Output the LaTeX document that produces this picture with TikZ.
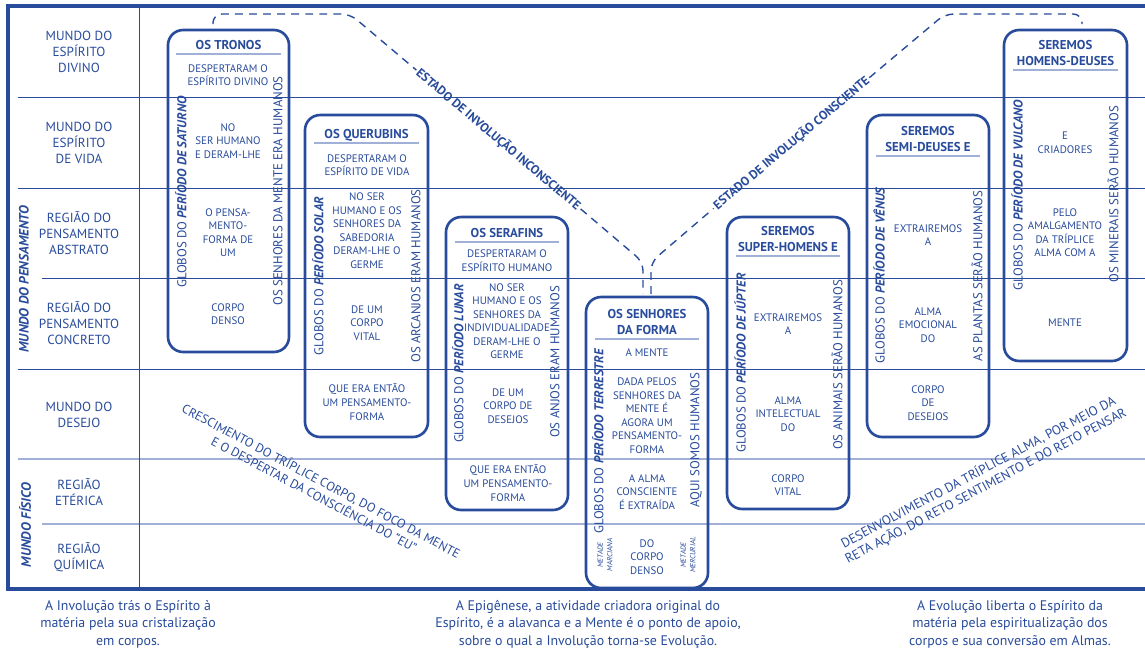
\documentclass[tikz,border=0pt]{standalone}
\usepackage{fontspec}
\setmainfont{PT Sans}
\definecolor{azul}{RGB}{40,75,155}
\definecolor{azulclaro}{RGB}{160,176,214}

\begin{document}
\begin{tikzpicture}[
    x=0.02cm, y=-0.02cm,
    moldura/.style={draw=azul, line width=2pt},
    grade/.style={draw=azul, line width=0.5pt},
    gradeclara/.style={draw=azulclaro, line width=0.8pt},
    mundo/.style={text=azul, align=center, inner sep=0pt, font=\fontsize{7.5}{9.1}\selectfont},
    mundolado/.style={text=azul, rotate=90, inner sep=0pt, font=\bfseries\itshape\fontsize{7.7}{9}\selectfont},
    periodo/.style={draw=azul, line width=1.5pt, rounded corners=0.3cm, minimum width=2.44cm},
    titulo/.style={text=azul, align=center, anchor=south, minimum width=2.08cm, inner xsep=0pt, inner ysep=2.6pt, text depth=0pt, font=\bfseries\fontsize{7.3}{8.8}\selectfont},
    sublinha/.style={draw=azulclaro, line width=0.7pt},
    texto/.style={text=azul, align=center, inner sep=0pt, font=\fontsize{6.2}{7.7}\selectfont},
    globo/.style={text=azul, rotate=90, inner sep=0pt, font=\fontsize{7.3}{8}\selectfont},
    metade/.style={text=azul, rotate=90, align=center, inner sep=0pt, font=\itshape\fontsize{4.2}{5.4}\selectfont},
    tracejado/.style={draw=azul, line width=0.8pt, dash pattern=on 4.5pt off 3.5pt, rounded corners=5pt},
    estado/.style={text=azul, inner sep=1pt, font=\bfseries\fontsize{7.1}{8}\selectfont},
    diagonal/.style={text=azul, align=center, inner sep=0pt, font=\fontsize{7.2}{8.6}\selectfont},
    legenda/.style={text=azul, align=center, inner sep=0pt, font=\fontsize{7.9}{10}\selectfont}
]
\useasboundingbox (0,0) rectangle (1145,653);

% Quadro e linhas dos mundos
\draw[grade] (18,97) -- (1145,97);
\draw[grade] (18,188) -- (1145,188);
\draw[grade] (42,278) -- (1145,278);
\draw[grade] (18,369) -- (1145,369);
\draw[gradeclara] (18,459) -- (1145,459);
\draw[gradeclara] (42,524) -- (1145,524);
\draw[grade] (139,6) -- (139,589);
\draw[moldura] (1145,6) -- (8,6) -- (8,589) -- (1145,589);

% Mundos
\node[mundo] (divino) at (79,52) {MUNDO DO\\ESPÍRITO\\DIVINO};
\node[mundo] (vida) at (79,143) {MUNDO DO\\ESPÍRITO\\DE VIDA};
\node[mundo] (abstrato) at (79,233) {REGIÃO DO\\PENSAMENTO\\ABSTRATO};
\node[mundo] (concreto) at (79,323.5) {REGIÃO DO\\PENSAMENTO\\CONCRETO};
\node[mundo] (desejo) at (79,415) {MUNDO DO\\DESEJO};
\node[mundo] (eterica) at (79,492) {REGIÃO\\ETÉRICA};
\node[mundo] (quimica) at (79,557) {REGIÃO\\QUÍMICA};
\node[mundolado] (mpensamento) at (24,279) {MUNDO DO PENSAMENTO};
\node[mundolado] (mfisico) at (25,525) {MUNDO FÍSICO};

% Periodo de Saturno
\node[periodo, minimum width=2.42cm, minimum height=6.44cm] (tronos) at (228.5,191) {};
\node[titulo] (tronos-t) at (228.5,54) {OS TRONOS};
\draw[sublinha] (tronos-t.south west) -- (tronos-t.south east);
\node[texto] (tronos-1) at (228,75) {DESPERTARAM O\\ESPÍRITO DIVINO};
\node[texto] (tronos-2) at (228,141) {NO\\SER HUMANO\\E DERAM-LHE};
\node[texto] (tronos-3) at (228,232.5) {O PENSA-\\MENTO-\\FORMA DE\\UM};
\node[texto] (tronos-4) at (228,314) {CORPO\\DENSO};
\node[globo] (tronos-g) at (181,192) {GLOBOS DO \textbf{\textit{PERÍODO DE SATURNO}}};
\node[globo] (tronos-h) at (278,191) {OS SENHORES DA MENTE ERA HUMANOS};

% Periodo Solar
\node[periodo, minimum width=2.46cm, minimum height=6.44cm] (querubins) at (366.5,276) {};
\node[titulo] (querubins-t) at (366.5,143) {OS QUERUBINS};
\draw[sublinha] (querubins-t.south west) -- (querubins-t.south east);
\node[texto] (querubins-1) at (367,165) {DESPERTARAM O\\ESPÍRITO DE VIDA};
\node[texto] (querubins-2) at (367,230.5) {NO SER\\HUMANO E OS\\SENHORES DA\\SABEDORIA\\DERAM-LHE O\\GERME};
\node[texto] (querubins-3) at (367,323) {DE UM\\CORPO\\VITAL};
\node[texto] (querubins-4) at (367,402) {QUE ERA ENTÃO\\UM PENSAMENTO-\\FORMA};
\node[globo] (querubins-g) at (318,276) {GLOBOS DO \textbf{\textit{PERÍODO SOLAR}}};
\node[globo] (querubins-h) at (416,276) {OS ARCANJOS ERAM HUMANOS};

% Periodo Lunar
\node[periodo, minimum height=5.86cm] (serafins) at (507,363.5) {};
\node[titulo] (serafins-t) at (507,242) {OS SERAFINS};
\draw[sublinha] (serafins-t.south west) -- (serafins-t.south east);
\node[texto] (serafins-1) at (507,260.5) {DESPERTARAM O\\ESPÍRITO HUMANO};
\node[texto] (serafins-2) at (507,321) {NO SER\\HUMANO E OS\\SENHORES DA\\INDIVIDUALIDADE\\DERAM-LHE O\\GERME};
\node[texto] (serafins-3) at (508,406) {DE UM\\CORPO DE\\DESEJOS};
\node[texto] (serafins-4) at (508,483) {QUE ERA ENTÃO\\UM PENSAMENTO-\\FORMA};
\node[globo] (serafins-g) at (458,363.5) {GLOBOS DO \textbf{\textit{PERÍODO LUNAR}}};
\node[globo] (serafins-h) at (555,362) {OS ANJOS ERAM HUMANOS};

% Periodo Terrestre
\node[periodo, minimum height=5.82cm] (senhores) at (647,442.5) {};
\node[titulo] (senhores-t) at (647,339) {OS SENHORES\\DA FORMA};
\draw[sublinha] (senhores-t.south west) -- (senhores-t.south east);
\node[texto] (senhores-1) at (647,353) {A MENTE};
\node[texto] (senhores-2) at (647,415.5) {DADA PELOS\\SENHORES DA\\MENTE É\\AGORA UM\\PENSAMENTO-\\FORMA};
\node[texto] (senhores-3) at (647,492) {A ALMA\\CONSCIENTE\\É EXTRAÍDA};
\node[texto] (senhores-4) at (647,557) {DO\\CORPO\\DENSO};
\node[globo] (senhores-g) at (598,441) {GLOBOS DO \textbf{\textit{PERÍODO TERRESTRE}}};
\node[globo] (senhores-h) at (696,440) {AQUI SOMOS HUMANOS};
\node[metade] (marciana) at (605,555) {METADE\\MARCIANA};
\node[metade] (mercurial) at (688,555) {METADE\\MERCURIAL};

% Periodo de Jupiter
\node[periodo, minimum height=5.84cm] (jupiter) at (788,363) {};
\node[titulo] (jupiter-t) at (788,256) {SEREMOS\\SUPER-HOMENS E};
\draw[sublinha] (jupiter-t.south west) -- (jupiter-t.south east);
\node[texto] (jupiter-1) at (788,324) {EXTRAIREMOS\\A};
\node[texto] (jupiter-2) at (788,414) {ALMA\\INTELECTUAL\\DO};
\node[texto] (jupiter-3) at (788,485) {CORPO\\VITAL};
\node[globo] (jupiter-g) at (740,363) {GLOBOS DO \textbf{\textit{PERÍODO DE JÚPTER}}};
\node[globo] (jupiter-h) at (837,365) {OS ANIMAIS SERÃO HUMANOS};

% Periodo de Venus
\node[periodo, minimum height=6.44cm] (venus) at (928,276) {};
\node[titulo] (venus-t) at (928,156) {SEREMOS\\SEMI-DEUSES E};
\draw[sublinha] (venus-t.south west) -- (venus-t.south east);
\node[texto] (venus-1) at (928,235) {EXTRAIREMOS\\A};
\node[texto] (venus-2) at (928,325) {ALMA\\EMOCIONAL\\DO};
\node[texto] (venus-3) at (928,403) {CORPO\\DE\\DESEJOS};
\node[globo] (venus-g) at (879,275) {GLOBOS DO \textbf{\textit{PERÍODO DE VÊNUS}}};
\node[globo] (venus-h) at (977,276) {AS PLANTAS SERÃO HUMANOS};

% Periodo de Vulcano
\node[periodo, minimum width=2.46cm, minimum height=6.62cm] (vulcano) at (1065.5,195.5) {};
\node[titulo] (vulcano-t) at (1065.5,70) {SEREMOS\\HOMENS-DEUSES};
\draw[sublinha] (vulcano-t.south west) -- (vulcano-t.south east);
\node[texto] (vulcano-1) at (1065,143) {E\\CRIADORES};
\node[texto] (vulcano-2) at (1065,232.5) {PELO\\AMALGAMENTO\\DA TRÍPLICE\\ALMA COM A};
\node[texto] (vulcano-3) at (1065,323) {MENTE};
\node[globo] (vulcano-g) at (1017,195) {GLOBOS DO \textbf{\textit{PERÍODO DE VULCANO}}};
\node[globo] (vulcano-h) at (1113,194) {OS MINERAIS SERÃO HUMANOS};

% Estados de involucao
\coordinate (inv-ini) at (213,24);
\coordinate (inv-fim) at (643,294);
\coordinate (con-ini) at (651,294);
\coordinate (con-fim) at (1082,24);
\node[estado, rotate=-40.2] (inconsciente) at (498.5,139.5) {ESTADO DE INVOLUÇÃO INCONSCIENTE};
\node[estado, rotate=40] (consciente) at (791.5,143) {ESTADO DE INVOLUÇÃO CONSCIENTE};
\draw[tracejado] (inv-ini) -- (213,14) -- (350,14) -- (inconsciente.west);
\draw[tracejado] (inconsciente.east) -- (643,262) -- (inv-fim);
\draw[tracejado] (con-ini) -- (651,262) -- (consciente.west);
\draw[tracejado] (consciente.east) -- (945,14) -- (1082,14) -- (con-fim);

% Textos diagonais
\node[diagonal, rotate=-28] (crescimento) at (318,487) {CRESCIMENTO DO TRÍPLICE CORPO, DO FOCO DA MENTE\\E O DESPERTAR DA CONSCIÊNCIA DO “EU”};
\node[diagonal, rotate=28, font=\fontsize{7.5}{8.8}\selectfont] (desenvolvimento) at (982,479) {DESENVOLVIMENTO DA TRÍPLICE ALMA, POR MEIO DA\\RETA AÇÃO, DO RETO SENTIMENTO E DO RETO PENSAR};

% Legendas
\node[legenda] (involucao) at (128,624) {A Involução trás o Espírito à\\matéria pela sua cristalização\\em corpos.};
\node[legenda] (epigenese) at (588,624) {A Epigênese, a atividade criadora original do\\Espírito, é a alavanca e a Mente é o ponto de apoio,\\sobre o qual a Involução torna-se Evolução.};
\node[legenda] (evolucao) at (1010,624) {A Evolução liberta o Espírito da\\matéria pela espiritualização dos\\corpos e sua conversão em Almas.};
\end{tikzpicture}
\end{document}
